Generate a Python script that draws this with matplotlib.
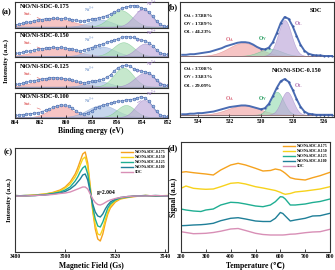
import numpy as np
import matplotlib
matplotlib.use('Agg')
import matplotlib.pyplot as plt

plt.rcParams['font.family'] = ['Liberation Serif', 'DejaVu Sans']
plt.rcParams['font.weight'] = 'bold'
plt.rcParams['axes.labelweight'] = 'bold'
plt.rcParams['mathtext.fontset'] = 'stix'

W, H = 335, 270
fig = plt.figure(figsize=(3.35, 2.70), dpi=100)


def px_axes(l, t, r, b):
    return fig.add_axes([l / W, 1 - b / H, (r - l) / W, (b - t) / H])


def gauss(x, c, h, s):
    return h * np.exp(-(x - c) ** 2 / (2 * s * s))


def style(ax, size=4):
    ax.tick_params(direction='in', length=2, width=0.5, labelsize=size, pad=1.5)
    for sp in ax.spines.values():
        sp.set_linewidth(0.8)
        sp.set_color('#333333')


# ---------------- (a) Ni 2p ----------------
ni_energy = np.linspace(864, 852, 41)
ni_names = ['NiO/Ni-SDC-0.175', 'NiO/Ni-SDC-0.150', 'NiO/Ni-SDC-0.125', 'NiO/Ni-SDC-0.100']
ni_175 = [0.10, 0.13, 0.16, 0.20, 0.22, 0.27, 0.30, 0.31, 0.35, 0.34, 0.37, 0.36, 0.35, 0.36,
          0.33, 0.31, 0.28, 0.24, 0.26, 0.30, 0.33, 0.35, 0.39, 0.42, 0.47, 0.53, 0.61, 0.68,
          0.76, 0.80, 0.84, 0.86, 0.84, 0.78, 0.72, 0.60, 0.44, 0.25, 0.12, 0.06, 0.04]
ni_150 = [0.14, 0.16, 0.18, 0.22, 0.24, 0.27, 0.31, 0.33, 0.35, 0.37, 0.38, 0.37, 0.38, 0.35,
          0.33, 0.30, 0.27, 0.22, 0.27, 0.33, 0.37, 0.42, 0.47, 0.52, 0.57, 0.62, 0.67, 0.72,
          0.77, 0.80, 0.79, 0.77, 0.72, 0.68, 0.64, 0.55, 0.45, 0.28, 0.16, 0.12, 0.10]
ni_125 = [0.12, 0.14, 0.17, 0.20, 0.24, 0.27, 0.30, 0.33, 0.35, 0.38, 0.39, 0.38, 0.37, 0.35,
          0.32, 0.28, 0.24, 0.20, 0.19, 0.22, 0.24, 0.26, 0.29, 0.33, 0.40, 0.50, 0.66, 0.78,
          0.85, 0.88, 0.84, 0.74, 0.68, 0.65, 0.62, 0.58, 0.46, 0.28, 0.14, 0.10, 0.08]
ni_100 = [0.10, 0.12, 0.13, 0.15, 0.17, 0.18, 0.21, 0.25, 0.30, 0.36, 0.42, 0.48, 0.52, 0.50,
          0.46, 0.38, 0.28, 0.18, 0.14, 0.20, 0.28, 0.38, 0.45, 0.50, 0.55, 0.59, 0.62, 0.65,
          0.68, 0.71, 0.72, 0.75, 0.80, 0.84, 0.78, 0.66, 0.46, 0.26, 0.12, 0.08, 0.06]
# fitted components (center, height, width): Sat., Ni (857), Ni3+, Ni2+
fit_175 = [(861.0, 0.32, 1.5), (857.3, 0.28, 0.9), (855.7, 0.65, 0.85), (854.0, 0.68, 0.7)]
fit_150 = [(860.8, 0.32, 1.5), (857.2, 0.38, 1.0), (855.5, 0.55, 0.8), (853.8, 0.50, 0.7)]
fit_125 = [(860.8, 0.34, 1.5), (857.5, 0.22, 0.9), (855.5, 0.75, 0.75), (853.8, 0.55, 0.8)]
fit_100 = [(860.4, 0.45, 0.9), (857.2, 0.48, 1.1), (855.3, 0.48, 0.7), (853.9, 0.68, 0.65)]
ni_fill = ['#f2a5a5', '#aac0e4', '#a8ddb2', '#bca6da']
ni_edge = ['#e07a7a', '#86a2d2', '#74c488', '#9a82c4']

rows_a = [2, 31.5, 62, 92.5]
for i, (vals, fits) in enumerate(zip([ni_175, ni_150, ni_125, ni_100],
                                     [fit_175, fit_150, fit_125, fit_100])):
    ax = px_axes(15, rows_a[i], 168, rows_a[i] + 25.5)
    xf = np.linspace(864, 852, 300)
    for (c, h, s), fc, ec in zip(fits, ni_fill, ni_edge):
        ax.fill_between(xf, 0.03, 0.03 + gauss(xf, c, h, s), facecolor=fc, edgecolor=ec,
                        lw=0.4, alpha=0.65)
    ax.plot(ni_energy, vals, '-o', color='#3d5fa8', lw=0.4, ms=2.0, mfc='#9bb8e0',
            mec='#3d5fa8', mew=0.4)
    ax.set_xlim(864, 852)
    ax.set_ylim(0, 1.0)
    ax.set_yticks([])
    ax.set_xticks(np.arange(864, 851, -2))
    style(ax)
    if i < 3:
        ax.set_xticklabels([])
    ax.text(0.035, 0.93, ni_names[i], transform=ax.transAxes, fontsize=4.5, va='top')
    ax.annotate('Sat.', xy=(861.8, 0.3), xytext=(863.3, 0.5), color='#e06666', fontsize=3.3,
                arrowprops=dict(arrowstyle='-', color='#e06666', lw=0.4))
    ax.annotate('Ni$^{3+}$', xy=(857.3, 0.32), xytext=(858.6, 0.6), color='#7f9fd0',
                fontsize=3.3, arrowprops=dict(arrowstyle='-', color='#7f9fd0', lw=0.4))
    ax.annotate('Ni$^{2+}$', xy=(854.6, 0.55), xytext=(853.7, 0.84), color='#a080c8',
                fontsize=3.3, arrowprops=dict(arrowstyle='-', color='#a080c8', lw=0.4))

fig.text(91 / W, 1 - 131 / H, 'Binding energy (eV)', ha='center', va='center', fontsize=5.5)
fig.text(6 / W, 1 - 61 / H, 'Intensity (a.u.)', rotation=90, ha='center', va='center',
         fontsize=5)

# ---------------- (b) O 1s ----------------
o_energy = np.linspace(535.0, 525.5, 39)
o_sdc = [0.12, 0.12, 0.13, 0.13, 0.14, 0.15, 0.16, 0.17, 0.19, 0.21, 0.23, 0.26, 0.28, 0.30,
         0.32, 0.33, 0.33, 0.32, 0.29, 0.25, 0.22, 0.21, 0.24, 0.33, 0.48, 0.65, 0.75, 0.72,
         0.60, 0.44, 0.29, 0.19, 0.14, 0.12, 0.11, 0.11, 0.10, 0.10, 0.10]
o_150 = [0.05, 0.05, 0.06, 0.06, 0.07, 0.07, 0.08, 0.09, 0.10, 0.12, 0.14, 0.16, 0.18, 0.19,
         0.20, 0.21, 0.21, 0.20, 0.18, 0.16, 0.14, 0.16, 0.24, 0.38, 0.53, 0.65, 0.69, 0.64,
         0.50, 0.33, 0.19, 0.10, 0.06, 0.05, 0.04, 0.04, 0.04, 0.04, 0.04]
# components (center, height, width): O_A, O_V, O_L
ofit_sdc = [(531.1, 0.22, 0.95), (529.4, 0.12, 0.7), (528.5, 0.60, 0.42)]
ofit_150 = [(531.1, 0.17, 1.0), (529.0, 0.42, 0.42), (528.35, 0.42, 0.38)]
o_base = [0.10, 0.04]
o_fill = ['#f2a5a5', '#98dcb4', '#bca6da']
o_edge = ['#e07a7a', '#5cbf88', '#9a82c4']
o_pct_sdc = ['37.88%', '17.89%', '44.23%']
o_pct_150 = ['37.08%', '33.83%', '29.09%']
o_names = ['SDC', 'NiO/Ni-SDC-0.150']

boxes_b = [(2, 62), (62, 117)]
for j, (vals, fits, pct) in enumerate(zip([o_sdc, o_150], [ofit_sdc, ofit_150],
                                          [o_pct_sdc, o_pct_150])):
    t, b = boxes_b[j]
    ax = px_axes(180, t, 334, b)
    xf = np.linspace(535.2, 525.3, 300)
    for (c, h, s), fc, ec in zip(fits, o_fill, o_edge):
        ax.fill_between(xf, o_base[j], o_base[j] + gauss(xf, c, h, s), facecolor=fc,
                        edgecolor=ec, lw=0.4, alpha=0.65)
    ax.plot(xf, np.full_like(xf, o_base[j]), color='#8a5a4a', lw=0.4)
    ax.plot(o_energy, vals, color='#4a6cb3', lw=1.4)
    ax.plot(o_energy[20:], vals[20:], 'o', color='#3b5ba5', ms=1.6, mew=0)
    ax.set_xlim(535.14, 525.37)
    ax.set_ylim(0, 1)
    ax.set_yticks([])
    ax.set_xticks([534, 532, 530, 528, 526])
    style(ax)
    if j == 0:
        ax.set_xticklabels([])
        ax.tick_params(axis='x', length=0)
    ax.text(0.92, 0.9, o_names[j], transform=ax.transAxes, fontsize=4.5, ha='right',
            va='top')
    ystart = [0.77, 0.87][j]
    step = [0.14, 0.155][j]
    for k, sub in enumerate(['A', 'V', 'L']):
        ax.text(0.02, ystart - k * step, 'O$_{\\mathbf{%s}}$ : %s' % (sub, pct[k]),
                transform=ax.transAxes, fontsize=3.8, va='center')
    ly = [(0.35, 0.37, 0.62), (0.31, 0.31, 0.55)][j]
    ax.text(532.0, ly[0], 'O$_{\\mathbf{A}}$', color='#d9667a', fontsize=4, ha='center')
    ax.text(529.9, ly[1], 'O$_{\\mathbf{V}}$', color='#1f9a5a', fontsize=4, ha='center')
    ax.text(527.6, ly[2], 'O$_{\\mathbf{L}}$', color='#b070b0', fontsize=4, ha='center')

# ---------------- (c) EPR ----------------
epr_field = [3480, 3484, 3488, 3492, 3495, 3498, 3500, 3502, 3504, 3505, 3506, 3507, 3508,
             3509, 3510, 3511, 3512, 3513, 3514, 3515, 3516, 3517, 3518, 3520, 3522, 3525,
             3528, 3532, 3536, 3541]
epr_175 = [0.5, 0, 1, 2, 3.5, 6, 9, 14, 22, 28, 35, 42, 44, 33, 10, -15, -33, -43, -45, -38,
           -27, -18, -12, -6, -3, -1.5, -0.5, 0.5, 0, 0.5]
epr_150 = [0, 0.5, 1, 2, 3, 5, 8, 12, 19, 24, 31, 37, 39, 29, 8, -14, -29, -38, -39, -33,
           -24, -16, -10, -5, -2.5, -1, 0, 0.5, 0, 0]
epr_125 = [0.5, 0, 0.5, 1.5, 2.5, 4, 6, 9, 15, 19, 24, 28, 30, 22, 6, -11, -23, -30, -31,
           -26, -19, -12, -8, -4, -2, -1, 0, 0, 0.5, 0]
epr_100 = [0, 0.5, 0.5, 1, 2, 3, 4.5, 7, 11, 14, 17, 21, 22, 16, 4, -8, -16, -20, -21, -18,
           -13, -9, -6, -3, -1.5, -0.5, 0, 0.5, 0, 0]
epr_sdc = [0, 0, 0.5, 1, 1.5, 2.5, 3, 4, 6, 7, 8, 9, 9, 7, 2, -3, -6.5, -8.5, -9, -8, -6.5,
           -5, -4, -2.5, -1.5, -0.5, 0, 0, 0.5, 0]
labels_cd = ['NiO/Ni-SDC-0.175', 'NiO/Ni-SDC-0.150', 'NiO/Ni-SDC-0.125',
             'NiO/Ni-SDC-0.100', 'SDC']
colors_cd = ['#f5a21e', '#f7d21c', '#1fae92', '#1f7f98', '#d88fb6']

ax = px_axes(15, 148, 168, 252)
for vals, lab, col in zip([epr_175, epr_150, epr_125, epr_100, epr_sdc], labels_cd,
                          colors_cd):
    ax.plot(epr_field, vals, color=col, lw=1.0, label=lab)
ax.set_xlim(3480, 3541)
ax.set_ylim(-56, 48)
ax.set_yticks([])
ax.set_xticks([3480, 3500, 3520, 3540])
style(ax)
ax.text(3512.5, 2, 'g=2.004', fontsize=4)
ax.legend(loc='upper right', fontsize=2.8, frameon=False, handlelength=3.2,
          labelspacing=0.25, borderaxespad=0.2, handletextpad=0.5)
ax.set_xlabel('Magnetic Field (Gs)', fontsize=5.5, labelpad=2)
ax.set_ylabel('Intensity (a.u.)', fontsize=5, labelpad=2)

# ---------------- (d) TPD ----------------
tpd_temp = [200, 220, 250, 280, 300, 330, 360, 400, 430, 460, 500, 530, 560, 580, 600, 610,
            620, 640, 660, 700, 730, 760, 800]
tpd_175 = [79.7, 80.3, 79.3, 78.5, 78, 77, 82, 87, 88.7, 87, 83.7, 81, 81.5, 83, 82, 80.5,
           78.7, 74.3, 73, 72, 74.3, 76.3, 79.7]
tpd_150 = [63.7, 66, 63.7, 63, 62.7, 63, 65.3, 68.7, 69.3, 68, 65.3, 64, 62.5, 61.5, 59.7,
           58.5, 57.7, 58.5, 60, 61, 62, 63, 65.3]
tpd_125 = [43, 42, 41, 40.5, 42, 43, 47, 49.7, 49.3, 48, 46, 45.3, 47, 50.3, 55.3, 55, 53,
           47, 47, 48, 49.5, 50.5, 53]
tpd_100 = [26.3, 26.5, 27, 27.3, 27.7, 28.7, 31.3, 33.7, 34.3, 33, 31, 30.5, 30.5, 33.7,
           39.5, 38.5, 36, 31, 32, 33.7, 36, 36.3, 38.7]
tpd_sdc = [20.3, 19.5, 18.3, 18.5, 18.7, 19.5, 20.8, 23, 23.5, 21.5, 18.7, 17.5, 17, 17, 17,
           17, 17.2, 17.8, 18, 19.3, 20, 20.3, 22.7]

ax = px_axes(181, 142, 330, 252)
for vals, lab, col in zip([tpd_175, tpd_150, tpd_125, tpd_100, tpd_sdc], labels_cd,
                          colors_cd):
    ax.plot(tpd_temp, vals, color=col, lw=1.0, label=lab)
ax.set_xlim(200, 800)
ax.set_ylim(0, 110)
ax.set_yticks([])
ax.set_xticks(range(200, 801, 100))
style(ax)
ax.legend(loc='upper right', fontsize=2.8, frameon=False, handlelength=3.2,
          labelspacing=0.25, borderaxespad=0.2, handletextpad=0.5)
ax.set_xlabel('Temperature (℃)', fontsize=5.5, labelpad=2)
ax.set_ylabel('Signal (a.u.)', fontsize=5.5, labelpad=2)

# panel tags
for tag, x, y in [('(a)', 7, 12), ('(b)', 173, 7), ('(c)', 8, 152), ('(d)', 173, 148)]:
    fig.text(x / W, 1 - y / H, tag, ha='center', va='center', fontsize=6)

fig.savefig('out.png', dpi=100)
